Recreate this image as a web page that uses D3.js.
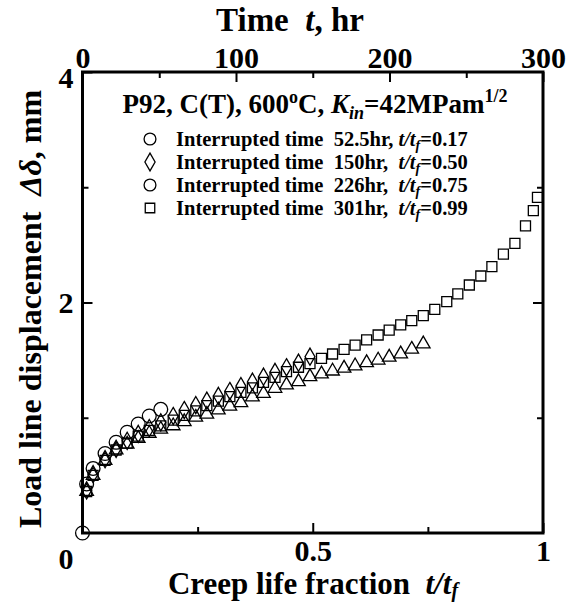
<!DOCTYPE html>
<html>
<head>
<meta charset="utf-8">
<script src="https://cdn.jsdelivr.net/npm/d3@7"></script>
<style>
  body { margin: 0; background: #fff; }
  text { font-family: 'Liberation Serif', 'Times New Roman', serif; font-weight: bold; fill: #000; white-space: pre; }
</style>
</head>
<body>
<svg width="572" height="602"></svg>
<script>
'use strict';

// creep life fraction at each reading (shared by all tests)
var fraction = [0.009, 0.023, 0.049, 0.073, 0.097, 0.121, 0.145, 0.170, 0.197, 0.221,
                0.246, 0.270, 0.295, 0.320, 0.344, 0.369, 0.393, 0.418, 0.443, 0.469,
                0.494, 0.519, 0.543, 0.568, 0.592, 0.617, 0.642, 0.666, 0.691, 0.715,
                0.740, 0.765, 0.791, 0.815, 0.840, 0.865, 0.889, 0.914, 0.939, 0.962,
                0.979, 0.988];

// load line displacement, mm
var disp52 = [0, 0.425, 0.56, 0.69, 0.787, 0.874, 0.946, 1.015, 1.073];   // starts at t/tf = 0
var disp150 = [0.37, 0.51, 0.64, 0.73, 0.80, 0.86, 0.91, 0.96, 1.015, 1.067, 1.11,
               1.148, 1.189, 1.232, 1.275, 1.313, 1.356, 1.397, 1.438, 1.478, 1.53];
var disp226 = [0.36, 0.50, 0.63, 0.72, 0.77, 0.82, 0.865, 0.90, 0.93, 0.966, 1.004,
               1.03, 1.067, 1.10, 1.13, 1.18, 1.21, 1.255, 1.284, 1.313, 1.356,
               1.38, 1.405, 1.43, 1.45, 1.478, 1.50, 1.525, 1.553, 1.594, 1.64];
var disp301 = [0.36, 0.50, 0.63, 0.72, 0.78, 0.84, 0.89, 0.93, 0.98, 1.02,
               1.06, 1.105, 1.145, 1.183, 1.22, 1.26, 1.307, 1.35, 1.40, 1.438,
               1.47, 1.516, 1.553, 1.594, 1.631, 1.675, 1.718, 1.761, 1.805, 1.842,
               1.886, 1.94, 2.007, 2.074, 2.152, 2.23, 2.311, 2.42, 2.513, 2.664,
               2.797, 2.913];

var legendTimes = ['52.5hr,', '150hr, ', '226hr, ', '301hr, '];
var legendRatios = ['0.17', '0.50', '0.75', '0.99'];
var legendSymbols = ['circle', 'diamond', 'circle', 'square'];

var xTicks = [0.5, 1], xMinor = [0.25, 0.75];
var tTicks = [0, 100, 200, 300], tMinor = [50, 150, 250];
var yTicks = [2, 4], yMinor = [1, 3];

function pairs(fr, ds) { return ds.map(function(d, i){ return {f: fr[i], d: d}; }); }
var s52 = pairs([0].concat(fraction), disp52);
var s150 = pairs(fraction, disp150);
var s226 = pairs(fraction, disp226);
var s301 = pairs(fraction, disp301);

var svg = d3.select('svg');
var pLeft = 82.5, pRight = 543, pTop = 72, pBottom = 533;

var x = d3.scaleLinear().domain([0, 1]).range([pLeft, pRight]);
var tScale = d3.scaleLinear().domain([0, 300]).range([pLeft, pRight]);
var y = d3.scaleLinear().domain([0, 4]).range([pBottom, pTop]);

function styleAxis(g, size) {
    g.select('.domain').remove();
    g.selectAll('line').attr('stroke', '#000').attr('stroke-width', 2);
    g.selectAll('text').attr('font-size', size).attr('font-family', null).attr('fill', '#000');
}

// bottom
svg.append('g').attr('transform', 'translate(0,' + pBottom + ')')
    .call(d3.axisBottom(x).tickValues(xTicks).tickSize(-10).tickPadding(7).tickFormat(d3.format('')))
    .call(styleAxis, 30);
svg.append('g').attr('transform', 'translate(0,' + pBottom + ')')
    .call(d3.axisBottom(x).tickValues(xMinor).tickSize(-6).tickFormat(''))
    .call(styleAxis, 30);
// top
svg.append('g').attr('transform', 'translate(0,' + pTop + ')')
    .call(d3.axisTop(tScale).tickValues(tTicks).tickSize(-10).tickPadding(4))
    .call(styleAxis, 30);
svg.append('g').attr('transform', 'translate(0,' + pTop + ')')
    .call(d3.axisTop(tScale).tickValues(tMinor).tickSize(-6).tickFormat(''))
    .call(styleAxis, 30);
// left
svg.append('g').attr('transform', 'translate(' + pLeft + ',0)')
    .call(d3.axisLeft(y).tickValues(yTicks).tickSize(-10).tickPadding(9).tickFormat(d3.format('d')))
    .call(styleAxis, 30);
svg.append('g').attr('transform', 'translate(' + pLeft + ',0)')
    .call(d3.axisLeft(y).tickValues(yMinor).tickSize(-6).tickFormat(''))
    .call(styleAxis, 30);
// right
svg.append('g').attr('transform', 'translate(' + pRight + ',0)')
    .call(d3.axisRight(y).tickValues(yTicks.slice(0, 1)).tickSize(-10).tickFormat(''))
    .call(styleAxis, 30);
svg.append('g').attr('transform', 'translate(' + pRight + ',0)')
    .call(d3.axisRight(y).tickValues(yMinor).tickSize(-6).tickFormat(''))
    .call(styleAxis, 30);
// nudge the "4" a little below its tick, as in the original
svg.selectAll('g.tick text').filter(function(d){ return d === 4; }).attr('dy', '0.5em');

// shared corner zero
svg.append('text').attr('x', 66).attr('y', 569).attr('text-anchor', 'middle')
    .attr('font-size', 30).text('0');

svg.append('rect')
    .attr('x', pLeft).attr('y', pTop)
    .attr('width', pRight - pLeft).attr('height', pBottom - pTop)
    .attr('fill', 'none').attr('stroke', '#000').attr('stroke-width', 3);

// markers
var symbolPath = {
    square: d3.symbol().type(d3.symbolSquare).size(100),
    triangle: d3.symbol().type(d3.symbolTriangle).size(80),
    diamond: d3.symbol().type(d3.symbolDiamond).size(85),
    circle: d3.symbol().type(d3.symbolCircle).size(150)
};

function drawSeries(data, kind, cls) {
    svg.selectAll('path.' + cls)
        .data(data)
        .enter().append('path')
            .attr('class', cls)
            .attr('d', symbolPath[kind]())
            .attr('transform', function(d){ return 'translate(' + x(d.f) + ',' + y(d.d) + ')'; })
            .attr('fill', 'none')
            .attr('stroke', '#000')
            .attr('stroke-width', 1.3);
}

drawSeries(s301, 'square', 's301');
drawSeries(s226, 'triangle', 's226');
drawSeries(s150, 'diamond', 's150');
drawSeries(s52, 'circle', 's52');

// axis titles
var xt = svg.append('text').attr('x', 313).attr('y', 594).attr('text-anchor', 'middle').attr('font-size', 31);
xt.append('tspan').text('Creep life fraction  ');
xt.append('tspan').attr('font-style', 'italic').text('t/t');
xt.append('tspan').attr('font-style', 'italic').attr('font-size', 20).attr('dy', 3).text('f');

var tt = svg.append('text').attr('x', 290).attr('y', 31).attr('text-anchor', 'middle').attr('font-size', 33);
tt.append('tspan').text('Time  ');
tt.append('tspan').attr('font-style', 'italic').text('t');
tt.append('tspan').text(', hr');

var yt = svg.append('text').attr('transform', 'translate(41,309) rotate(-90)')
    .attr('text-anchor', 'middle').attr('font-size', 32);
yt.append('tspan').text('Load line displacement  ');
yt.append('tspan').attr('font-style', 'italic').text('\u0394\u03b4');
yt.append('tspan').text(', mm');

// legend
var lt = svg.append('text').attr('x', 315).attr('y', 113).attr('text-anchor', 'middle').attr('font-size', 27);
lt.append('tspan').text('P92, C(T), 600');
lt.append('tspan').attr('font-size', 18).attr('dy', -10).text('o');
lt.append('tspan').attr('dy', 10).text('C, ');
lt.append('tspan').attr('font-style', 'italic').text('K');
lt.append('tspan').attr('font-style', 'italic').attr('font-size', 18).attr('dy', 6).text('in');
lt.append('tspan').attr('dy', -6).text('=42MPam');
lt.append('tspan').attr('font-size', 18).attr('dy', -11).text('1/2');

var rowY = d3.scaleLinear().domain([0, 3]).range([139, 208]);
var rows = svg.selectAll('g.leg').data(legendTimes).enter().append('g').attr('class', 'leg')
    .attr('transform', function(d, i){ return 'translate(0,' + rowY(i) + ')'; });
rows.append('path')
    .attr('d', function(d, i){ return symbolPath[legendSymbols[i]].size(legendSymbols[i] == 'circle' ? 110 : 90)(); })
    .attr('transform', 'translate(150,0)')
    .attr('fill', 'none').attr('stroke', '#000').attr('stroke-width', 1.3);
var rt = rows.append('text').attr('x', 176).attr('y', 7).attr('font-size', 20.5);
rt.append('tspan').text(function(d){ return 'Interrupted time  ' + d + ' '; });
rt.append('tspan').attr('font-style', 'italic').text('t/t');
rt.append('tspan').attr('font-style', 'italic').attr('font-size', 14).attr('dy', 4).text('f');
rt.append('tspan').attr('dy', -4).text(function(d, i){ return '=' + legendRatios[i]; });
</script>
</body>
</html>
